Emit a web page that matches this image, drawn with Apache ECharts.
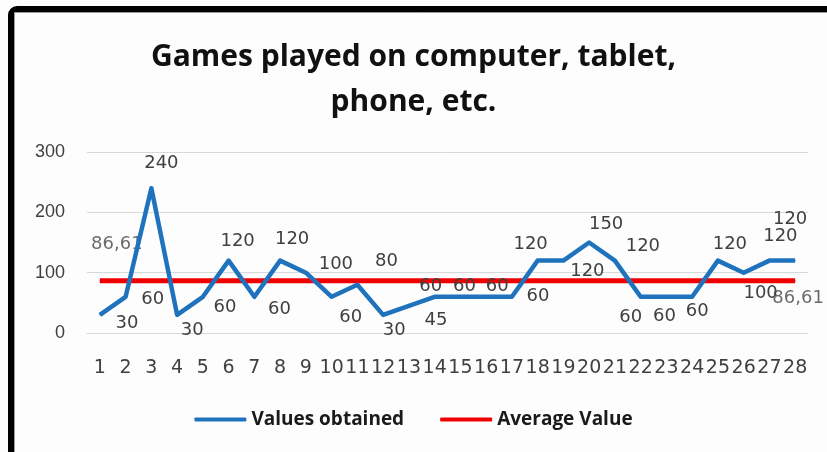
<!DOCTYPE html>
<html>
<head>
<meta charset="utf-8">
<script src="https://cdn.jsdelivr.net/npm/echarts@6/dist/echarts.min.js"></script>
<style>
  html, body { margin: 0; padding: 0; background: #ffffff; }
  #chart { width: 827px; height: 452px; }
</style>
</head>
<body>
<div id="chart"></div>
<script>
// Session numbers and minutes of gaming recorded for each one
const sessions = ['1','2','3','4','5','6','7','8','9','10','11','12','13','14',
                  '15','16','17','18','19','20','21','22','23','24','25','26','27','28'];
const valuesObtained = [30, 60, 240, 30, 60, 120, 60, 120, 100, 60, 80, 30, 45, 60,
                        60, 60, 60, 120, 120, 150, 120, 60, 60, 60, 120, 100, 120, 120];
const averageValue = 86.61;
const yTicks = [0, 100, 200, 300];

// Hand-placed label nudges (pixels) so the value tags do not collide
const labelNudge = [
  [27, 8], [27, 3], [10, -25], [15, 15], [22, 11], [9, -19], [25, 13], [12, -21],
  [30, -8], [19, 21], [29, -23], [11, 15], [27, 14], [-4, -10], [4, -10], [11, -10],
  [26, 0], [-7, -16], [24, 11], [17, -18], [28, -14], [-10, 21], [-2, 20], [5, 15],
  [12, -16], [17, 21], [11, -24], [-5, -41]
];

const fmtComma = v => String(v).replace('.', ',');

const valueData = valuesObtained.map((v, i) => ({
  value: v,
  label: { offset: labelNudge[i] }
}));

const avgData = sessions.map((_, i) => {
  const item = { value: averageValue };
  if (i === 0) item.label = { show: true, offset: [17, -36] };
  else if (i === sessions.length - 1) item.label = { show: true, offset: [3, 18] };
  return item;
});

const chart = echarts.init(document.getElementById('chart'), null, { renderer: 'canvas' });

chart.setOption({
  backgroundColor: '#fdfdfd',
  animation: false,
  title: {
    text: 'Games played on computer, tablet,\nphone, etc.',
    left: 'center',
    top: 30,
    textStyle: {
      fontFamily: 'Open Sans',
      fontWeight: 700,
      fontSize: 30,
      lineHeight: 45,
      color: '#111111'
    }
  },
  legend: {
    bottom: 18,
    left: 'center',
    icon: 'roundRect',
    itemWidth: 52,
    itemHeight: 4,
    itemGap: 36,
    textStyle: {
      fontFamily: 'Open Sans',
      fontWeight: 700,
      fontSize: 19,
      color: '#1a1a1a'
    },
    data: ['Values obtained', 'Average Value']
  },
  grid: {
    left: 87,
    right: 19,
    top: 152,
    bottom: 119,
    containLabel: false
  },
  xAxis: {
    type: 'category',
    data: sessions,
    axisLine: { show: true, lineStyle: { color: '#d9d9d9', width: 1 } },
    axisTick: { show: false },
    axisLabel: {
      interval: 0,
      margin: 26,
      fontFamily: 'DejaVu Sans',
      fontSize: 19,
      color: '#404040'
    }
  },
  yAxis: {
    type: 'value',
    min: yTicks[0],
    max: yTicks[yTicks.length - 1],
    interval: 100,
    axisLine: { show: false },
    axisTick: { show: false },
    splitLine: { lineStyle: { color: '#d9d9d9', width: 1 } },
    axisLabel: {
      margin: 22,
      fontFamily: 'Liberation Sans',
      fontSize: 18,
      color: '#404040'
    }
  },
  series: [
    {
      name: 'Values obtained',
      type: 'line',
      data: valueData,
      symbol: 'circle',
      symbolSize: 1,
      showSymbol: true,
      color: '#1f73bd',
      lineStyle: { width: 4.5, color: '#1f73bd', join: 'round' },
      z: 3,
      label: {
        show: true,
        position: 'inside',
        fontFamily: 'DejaVu Sans',
        fontSize: 18,
        color: '#404040'
      }
    },
    {
      name: 'Average Value',
      type: 'line',
      data: avgData,
      symbol: 'circle',
      symbolSize: 1,
      showSymbol: true,
      color: '#f00000',
      lineStyle: { width: 5, color: '#f00000' },
      z: 2,
      label: {
        show: false,
        position: 'inside',
        formatter: p => fmtComma(p.value),
        fontFamily: 'DejaVu Sans',
        fontSize: 18,
        color: '#6b6b6b'
      }
    }
  ],
  graphic: [
    {
      type: 'rect',
      silent: true,
      shape: { x: 11, y: 9, width: 900, height: 600, r: 6 },
      style: { fill: null, stroke: '#000000', lineWidth: 6 }
    },
    {
      type: 'rect',
      silent: true,
      shape: { x: 14.5, y: 12.5, width: 900, height: 600 },
      style: { fill: null, stroke: '#9a9a9a', lineWidth: 1 }
    }
  ]
});
</script>
</body>
</html>
